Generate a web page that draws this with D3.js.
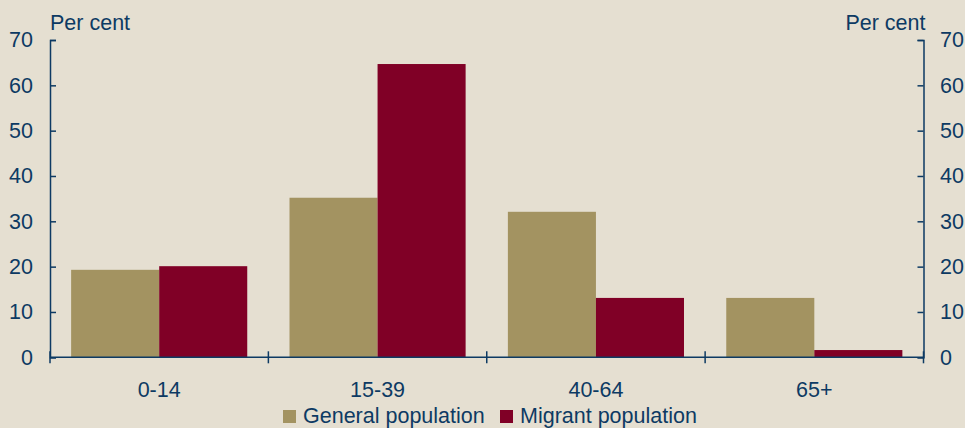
<!DOCTYPE html>
<html><head><meta charset="utf-8">
<script src="https://cdn.jsdelivr.net/npm/d3@7"></script>
<style>
html,body{margin:0;padding:0;background:#e5dfd1;}
svg{display:block;font-family:Arial,"Liberation Sans",sans-serif;}
</style></head>
<body>
<svg id="chart" width="965" height="428"></svg>
<script>
const categories = ["0-14", "15-39", "40-64", "65+"];
const seriesNames = ["General population", "Migrant population"];
const generalValues = [19.3, 35.2, 32.1, 13.1];
const migrantValues = [20.1, 64.7, 13.1, 1.6];
const yTicks = [0, 10, 20, 30, 40, 50, 60, 70];
const unitLabel = "Per cent";

const colors = ["#a39361", "#800026"];
const ink = "#0d3a63";
const FS = 21.5;
const W = 965, H = 428;
const m = {left: 50, right: 41.5, top: 40, bottom: 70.7};
const svg = d3.select("#chart");
svg.append("rect").attr("width", W).attr("height", H).attr("fill", "#e5dfd1");

const x0 = d3.scaleBand().domain(categories).range([m.left, W - m.right]).paddingInner(0).paddingOuter(0);
const x1 = d3.scaleBand().domain(seriesNames).range([0, x0.bandwidth()]).paddingInner(0).paddingOuter(0.24);
const y = d3.scaleLinear().domain([0, 70]).range([H - m.bottom, m.top]);

const data = categories.map((c, i) => ({cat: c, vals: [generalValues[i], migrantValues[i]]}));

const g = svg.append("g");
g.selectAll("g.grp").data(data).join("g").attr("class", "grp")
  .attr("transform", d => `translate(${x0(d.cat)},0)`)
  .selectAll("rect").data(d => d.vals.map((v, j) => ({name: seriesNames[j], v, j})))
  .join("rect")
  .attr("x", d => x1(d.name))
  .attr("width", x1.bandwidth())
  .attr("y", d => y(d.v))
  .attr("height", d => y(0) - y(d.v))
  .attr("fill", d => colors[d.j]);

const yl = svg.append("g").attr("transform", `translate(${m.left},0)`)
  .call(d3.axisLeft(y).tickValues(yTicks).tickSize(-6).tickPadding(17).tickFormat(d3.format("d")));
const yr = svg.append("g").attr("transform", `translate(${W - m.right},0)`)
  .call(d3.axisRight(y).tickValues(yTicks).tickSize(-6).tickPadding(16.5).tickFormat(d3.format("d")));
[yl, yr].forEach(a => {
  a.select(".domain").attr("stroke", ink).attr("stroke-width", 1.5);
  a.selectAll(".tick line").attr("stroke", ink).attr("stroke-width", 1.5);
  a.selectAll(".tick text").attr("fill", ink).attr("font-size", FS).attr("font-family", "Arial, 'Liberation Sans', sans-serif");
});

svg.append("line").attr("x1", m.left).attr("x2", W - m.right)
  .attr("y1", y(0)).attr("y2", y(0)).attr("stroke", ink).attr("stroke-width", 1.5);
const bounds = categories.map(c => x0(c)).concat([x0(categories[categories.length - 1]) + x0.bandwidth()]);
svg.selectAll("line.bt").data(bounds).join("line").attr("class", "bt")
  .attr("x1", d => d).attr("x2", d => d)
  .attr("y1", y(0) - 6).attr("y2", y(0) + 6)
  .attr("stroke", ink).attr("stroke-width", 1.5);
svg.selectAll("text.cat").data(categories).join("text").attr("class", "cat")
  .attr("x", d => x0(d) + x0.bandwidth() / 2).attr("y", y(0) + 40)
  .attr("text-anchor", "middle").attr("fill", ink).attr("font-size", FS).text(d => d);

svg.append("text").attr("x", m.left).attr("y", 30).attr("fill", ink).attr("font-size", FS).text(unitLabel);
svg.append("text").attr("x", W - m.right + 2).attr("y", 30).attr("text-anchor", "end").attr("fill", ink).attr("font-size", FS).text(unitLabel);

const leg = svg.append("g");
const legX = [283, 500];
seriesNames.forEach((n, i) => {
  leg.append("rect").attr("x", legX[i]).attr("y", 410).attr("width", 13).attr("height", 13).attr("fill", colors[i]);
  leg.append("text").attr("x", legX[i] + 20).attr("y", 423).attr("fill", ink).attr("font-size", FS).text(n);
});
</script>
</body></html>
